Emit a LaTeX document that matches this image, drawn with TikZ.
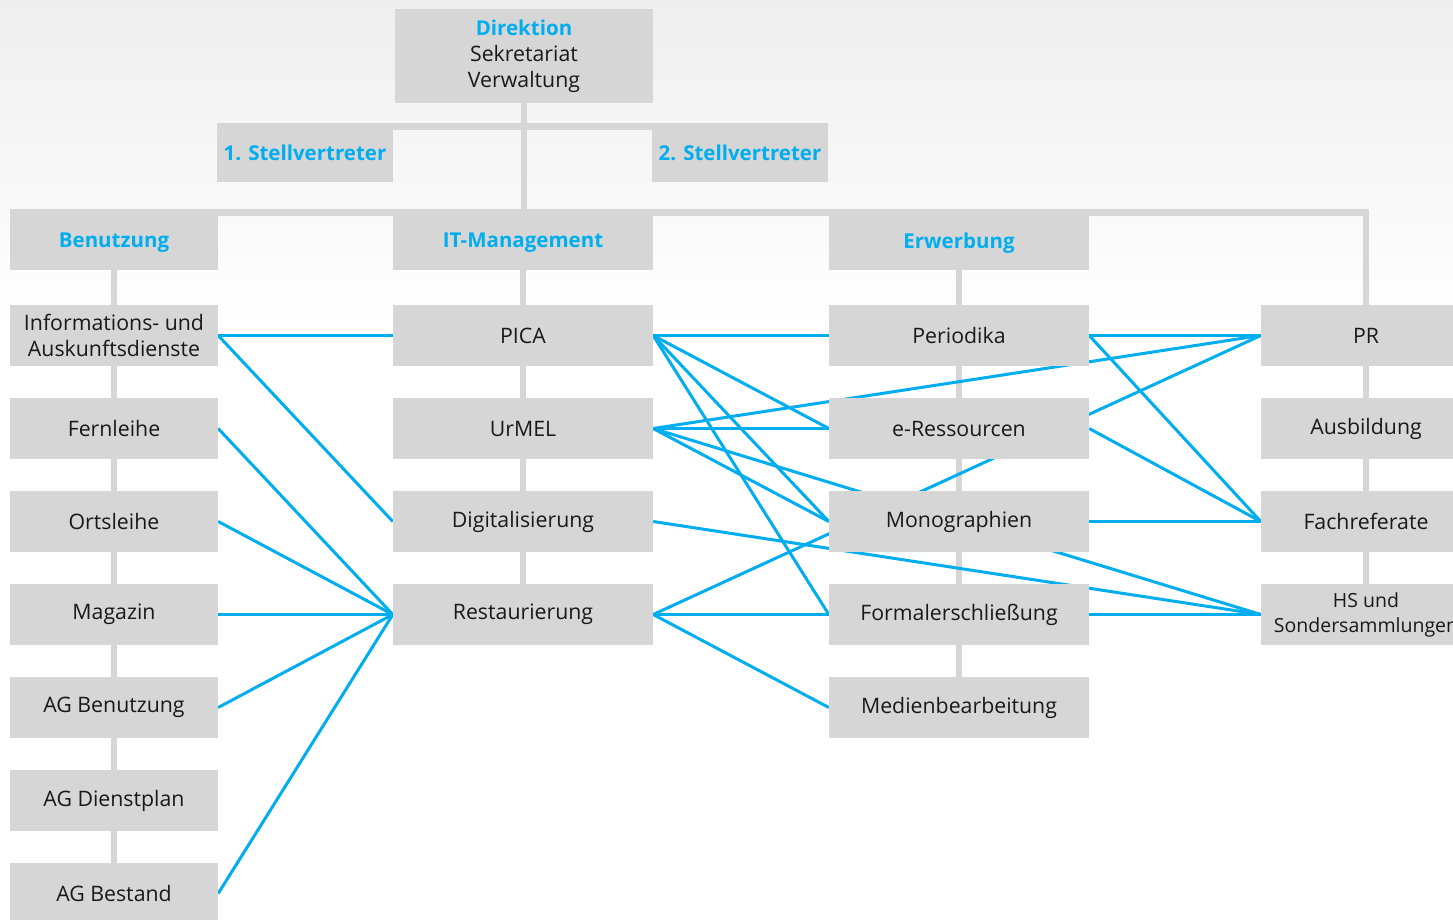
\documentclass[tikz,border=0pt]{standalone}
\usepackage{fontspec}
\setmainfont{Open Sans}
\usetikzlibrary{positioning}
\definecolor{boxgrey}{HTML}{D6D6D6}
\definecolor{hsblue}{HTML}{00AEEF}
\pgfdeclarelayer{back}
\pgfdeclarelayer{lines}
\pgfsetlayers{back,lines,main}
\begin{document}
\begin{tikzpicture}[x=1pt,y=-1pt,
        box/.style={fill=boxgrey,minimum width=208pt,minimum height=61pt,inner sep=0pt,
          align=center,text=black!90,font=\fontsize{21.3}{26}\selectfont},
        wide/.style={box,minimum width=260pt},
        head/.style={box,minimum height=54pt,text=hsblue,font=\fontsize{20.5}{26}\selectfont\bfseries},
        tie/.style={boxgrey,line width=6.5pt,line join=miter},
        link/.style={hsblue,line width=3pt}]
        \useasboundingbox (0,0) rectangle (1453,920);
        % top
        \node[box,minimum width=258pt,minimum height=94pt] (dir) at (524,56)
          {\textcolor{hsblue}{\fontsize{20.5}{26}\selectfont\bfseries Direktion}\\Sekretariat\\Verwaltung};
        \node[head,minimum width=176pt,minimum height=59pt] (stv1) at (305,152.5) {1. Stellvertreter};
        \node[head,minimum width=176pt,minimum height=59pt] (stv2) at (740,152.5) {2. Stellvertreter};
        % Benutzung
        \node[head] (benutzung) at (114,243) {Benutzung};
        \node[box] (info) at (114,335.5) {Informations- und\\Auskunftsdienste};
        \node[box] (fernleihe) at (114,428.5) {Fernleihe};
        \node[box] (ortsleihe) at (114,521.5) {Ortsleihe};
        \node[box] (magazin) at (114,614.5) {Magazin};
        \node[box] (agben) at (114,707.5) {AG Benutzung};
        \node[box] (agdienst) at (114,800.5) {AG Dienstplan};
        \node[box] (agbestand) at (114,893.5) {AG Bestand};
        % IT-Management
        \node[head,minimum width=260pt] (itm) at (523,243) {IT-Management};
        \node[wide] (pica) at (523,335.5) {PICA};
        \node[wide] (urmel) at (523,428.5) {UrMEL};
        \node[wide] (digi) at (523,521.5) {Digitalisierung};
        \node[wide] (resta) at (523,614.5) {Restaurierung};
        % Erwerbung
        \node[head,minimum width=260pt] (erw) at (959,243) {Erwerbung};
        \node[wide] (period) at (959,335.5) {Periodika};
        \node[wide] (eress) at (959,428.5) {e-Ressourcen};
        \node[wide] (mono) at (959,521.5) {Monographien};
        \node[wide] (formal) at (959,614.5) {Formalerschließung};
        \node[wide] (medien) at (959,707.5) {Medienbearbeitung};
        % rechts
        \node[box,minimum width=210pt] (pr) at (1366,335.5) {PR};
        \node[box,minimum width=210pt] (ausb) at (1366,428.5) {Ausbildung};
        \node[box,minimum width=210pt] (fach) at (1366,521.5) {Fachreferate};
        \node[box,minimum width=210pt,font=\fontsize{19.5}{25}\selectfont] (hs) at (1366,614.5)
          {HS und\\Sondersammlungen};

        \begin{pgfonlayer}{back}
          \fill[top color=gray!13,bottom color=white] (0,0) rectangle (1453,330);
          \fill[white] (0,330) rectangle (1453,920);
        \end{pgfonlayer}

        \begin{pgfonlayer}{lines}
          % grey ties
          \draw[tie] (dir.south) -- (dir.south |- itm.north);
          \draw[tie] ([yshift=-3.5pt]stv1.north west) -- ([yshift=-3.5pt]stv2.north east);
          \draw[tie] ([yshift=3.5pt]benutzung.north west) -| (pr.north);
          \draw[tie] (benutzung) -- (agbestand);
          \draw[tie] (itm) -- (resta);
          \draw[tie] (erw) -- (medien);
          \draw[tie] (pr) -- (hs);
          % blue links
          \draw[link] (info.east) -- (pica.west);
          \draw[link] (info.east) -- (digi.west);
          \draw[link] (fernleihe.east) -- (resta.west);
          \draw[link] (ortsleihe.east) -- (resta.west);
          \draw[link] (magazin.east) -- (resta.west);
          \draw[link] (agben.east) -- (resta.west);
          \draw[link] (agbestand.east) -- (resta.west);
          \draw[link] (pica.east) -- (period.west);
          \draw[link] (pica.east) -- (eress.west);
          \draw[link] (pica.east) -- (mono.west);
          \draw[link] (pica.east) -- (formal.west);
          \draw[link] (urmel.east) -- (eress.west);
          \draw[link] (urmel.east) -- (mono.west);
          \draw[link] (urmel.east) -- (pr.west);
          \draw[link] (urmel.east) -- (hs.west);
          \draw[link] (digi.east) -- (hs.west);
          \draw[link] (resta.east) -- (formal.west);
          \draw[link] (resta.east) -- (medien.west);
          \draw[link] (resta.east) -- (pr.west);
          \draw[link] (period.east) -- (pr.west);
          \draw[link] (period.east) -- (fach.west);
          \draw[link] (eress.east) -- (fach.west);
          \draw[link] (mono.east) -- (fach.west);
          \draw[link] (formal.east) -- (hs.west);
        \end{pgfonlayer}
      \end{tikzpicture}
\end{document}
